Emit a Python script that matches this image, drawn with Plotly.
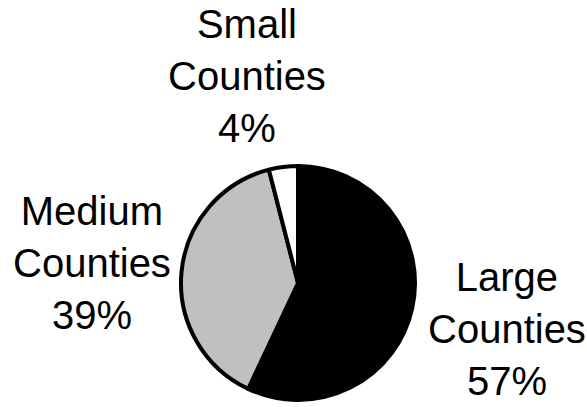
import plotly.graph_objects as go

categories = ["Large Counties", "Medium Counties", "Small Counties"]
values = [57, 39, 4]
label_text = ["Large<br>Counties<br>57%", "Medium<br>Counties<br>39%", "Small<br>Counties<br>4%"]
colors = ["#000000", "#c0c0c0", "#ffffff"]

W, H = 587, 407
cx, cy, r = 298, 283, 117

fig = go.Figure(go.Pie(
    labels=categories, values=values, sort=False, direction="clockwise", rotation=0,
    marker=dict(colors=colors, line=dict(color="#000000", width=4)),
    textinfo="none", hoverinfo="label+percent", showlegend=False,
    domain=dict(x=[(cx - r) / W, (cx + r) / W], y=[(H - cy - r) / H, (H - cy + r) / H]),
))

label_pos = [(507, 329), (92, 263), (247, 76)]
for txt, (x, y) in zip(label_text, label_pos):
    fig.add_annotation(x=x / W, y=1 - y / H, xref="paper", yref="paper", text=txt,
                       showarrow=False, xanchor="center", yanchor="middle", align="center",
                       font=dict(family="Liberation Sans, Arial", size=40, color="#000000"))

fig.update_layout(width=W, height=H, margin=dict(l=0, r=0, t=0, b=0),
                  paper_bgcolor="white", plot_bgcolor="white")
fig.write_html("out.html", config={"displayModeBar": False},
               post_script="document.body.style.margin='0';document.body.style.overflow='hidden';")
